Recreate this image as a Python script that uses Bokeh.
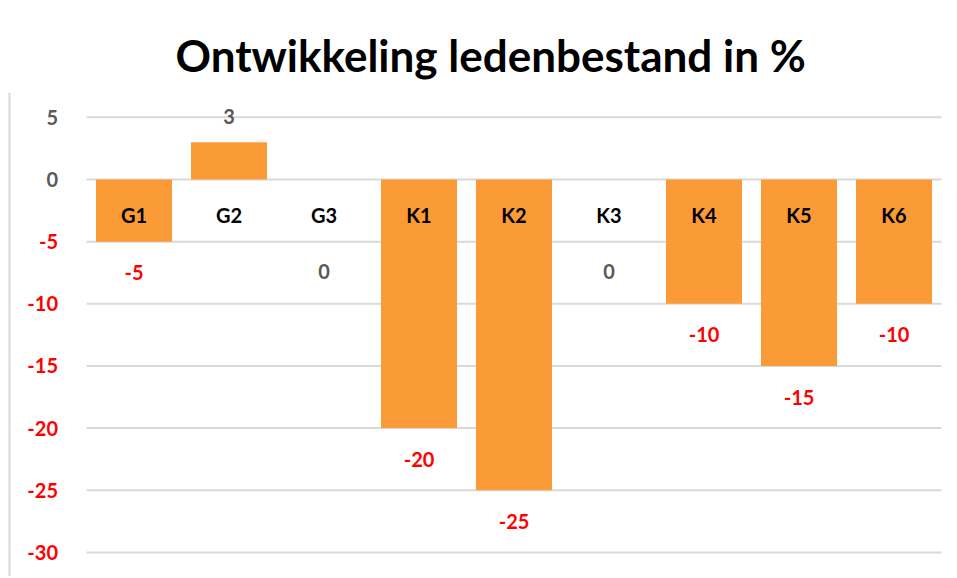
from bokeh.plotting import figure
from bokeh.models import ColumnDataSource, Range1d, Span
from bokeh.core.properties import value
from bokeh.embed import file_html
from bokeh.resources import INLINE

# ---- data ----
categories = ["G1", "G2", "G3", "K1", "K2", "K3", "K4", "K5", "K6"]
values = [-5, 3, 0, -20, -25, 0, -10, -15, -10]
y_ticks = [5, 0, -5, -10, -15, -20, -25, -30]
title_text = "Ontwikkeling ledenbestand in %"

FONT = "Lato"
RED = "#FF0000"
GRAY = "#595959"
BAR = "#FB9B38"
GRID = "#D9D9D9"

W, H = 955, 576
TOP = 92  # space reserved for title

# pixel geometry (frame spans the whole width below the title)
px_per_cat = 95.0
px_per_unit = 12.43
frame_left_px = 0
grid_left_px = 86
zero_px = 179
frame_top_px = TOP
frame_bottom_px = H

x_start = (frame_left_px - grid_left_px) / px_per_cat
x_end = x_start + W / px_per_cat
y_end = (zero_px - frame_top_px) / px_per_unit
y_start = (zero_px - frame_bottom_px) / px_per_unit

p = figure(width=W, height=H, x_range=Range1d(x_start, x_end),
           y_range=Range1d(y_start, y_end), output_backend="svg",
           toolbar_location=None, x_axis_type=None, y_axis_type=None,
           title=title_text, min_border_left=0, min_border_right=0,
           min_border_bottom=0, min_border_top=TOP)
p.grid.visible = False
p.outline_line_color = None
p.background_fill_color = "white"
p.border_fill_color = "white"

p.title.text_font = FONT
p.title.text_font_size = "44px"
p.title.text_font_style = "bold"
p.title.text_color = "black"
p.title.align = "left"
p.title.offset = 175
p.title.standoff = 23

n = len(categories)
xc = [i + 0.5 for i in range(n)]

# gridlines
p.segment(x0=[0] * len(y_ticks), x1=[n] * len(y_ticks), y0=y_ticks, y1=y_ticks,
          line_color=GRID, line_width=2)

# left frame border
p.add_layout(Span(location=(9 - grid_left_px) / px_per_cat, dimension="height",
                  line_color=GRID, line_width=2))

# y tick labels
tick_src = ColumnDataSource(dict(
    x=[-0.3] * len(y_ticks), y=y_ticks, t=[str(v) for v in y_ticks],
    c=[RED if v < 0 else GRAY for v in y_ticks]))
p.text(x="x", y="y", text="t", source=tick_src, text_color="c",
       text_align="right", text_baseline="middle", text_font=value(FONT),
       text_font_style="bold", text_font_size="20px")

# bars
bar_src = ColumnDataSource(dict(x=xc, top=values, cat=categories))
p.vbar(x="x", top="top", bottom=0, width=0.8, source=bar_src,
       fill_color=BAR, line_color=None)

# category labels
cat_src = ColumnDataSource(dict(x=xc, y=[-2.82] * n, t=categories))
p.text(x="x", y="y", text="t", source=cat_src, text_color="black",
       text_align="center", text_baseline="middle", text_font=value(FONT),
       text_font_style="bold", text_font_size="20px")

# value labels
def label_y(v):
    if v < 0:
        return v - 2.5
    if v > 0:
        return v + 2.1
    return -7.4

val_src = ColumnDataSource(dict(
    x=xc, y=[label_y(v) for v in values], t=[str(v) for v in values],
    c=[RED if v < 0 else GRAY for v in values]))
p.text(x="x", y="y", text="t", source=val_src, text_color="c",
       text_align="center", text_baseline="middle", text_font=value(FONT),
       text_font_style="bold", text_font_size="20px")

open("out.html", "w").write(file_html(p, INLINE))
